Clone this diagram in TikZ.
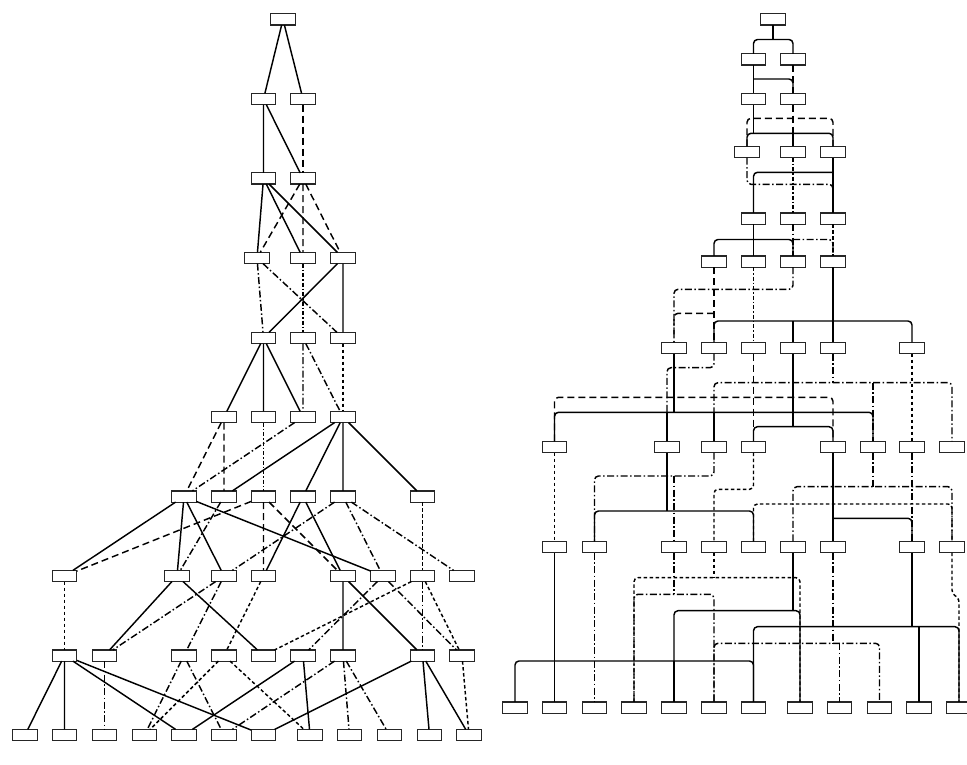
\documentclass[tikz,border=0pt]{standalone}
\begin{document}
\begin{tikzpicture}[x=1pt,y=-1pt,
  box/.style={draw=black!85, fill=white, line width=1.2pt, minimum width=24.6pt, minimum height=11.2pt, inner sep=0pt, outer sep=0pt},
  ln/.style={line width=1.45pt, draw=black},
  sol/.style={ln},
  dsh/.style={ln, dash pattern=on 7pt off 4pt},
  ddsh/.style={ln, dash pattern=on 3.5pt off 2.5pt},
  dd/.style={ln, dash pattern=on 7pt off 2.5pt on 1.5pt off 2.5pt},
  ddd/.style={ln, dash pattern=on 4pt off 2pt on 1.5pt off 2pt},
  rc/.style={rounded corners=4pt}]
\useasboundingbox (0,0) rectangle (967,765);

% ---------------- left diagram nodes ----------------
\node[box] (a1) at (283,19.5) {};
\node[box] (a2a) at (263.5,99) {};
\node[box] (a2b) at (303,99) {};
\node[box] (a3a) at (263.5,178.5) {};
\node[box] (a3b) at (303,178.5) {};
\node[box] (a4a) at (257,258) {};
\node[box] (a4b) at (303,258) {};
\node[box] (a4c) at (343,258) {};
\node[box] (a5a) at (263.5,338) {};
\node[box] (a5b) at (303,338) {};
\node[box] (a5c) at (343,338) {};
\foreach \n/\x in {a/224,b/263.5,c/303,d/343} \node[box] (a6\n) at (\x,417) {};
\foreach \n/\x in {a/184,b/224,c/263.5,d/303,e/343,f/422.5} \node[box] (a7\n) at (\x,496.5) {};
\foreach \n/\x in {a/64.5,b/177,c/224,d/263.5,e/343,f/383,g/422.5,h/462} \node[box] (a8\n) at (\x,576) {};
\foreach \n/\x in {a/64.5,b/104.5,c/184,d/224,e/263.5,f/303,g/343,h/422.5,i/462} \node[box] (a9\n) at (\x,655.5) {};
\foreach \n/\x in {a/25,b/64.5,c/104.5,d/144.5,e/184,f/224,g/263.5,h/310,i/349.5,j/389.5,k/429.5,l/469} \node[box] (a10\n) at (\x,735) {};

% ---------------- left diagram edges ----------------
\draw[sol] (a1) -- (a2a) (a1) -- (a2b);
\draw[sol] (a2a) -- (a3a) (a2a) -- (a3b);
\draw[dsh] (a2b) -- (a3b);
\draw[sol] (a3a) -- (a4a) (a3a) -- (a4b) (a3a) -- (a4c);
\draw[dsh] (a3b) -- (a4a) (a3b) -- (a4b) (a3b) -- (a4c);
\draw[dd] (a4a) -- (a5a) (a4a) -- (a5c);
\draw[ddd] (a4b) -- (a5b);
\draw[sol] (a4c) -- (a5a) (a4c) -- (a5c);
\draw[sol] (a5a) -- (a6a) (a5a) -- (a6b) (a5a) -- (a6c);
\draw[dd] (a5b) -- (a6c) (a5b) -- (a6d);
\draw[ddsh] (a5c) -- (a6d);
\draw[dsh] (a6a) -- (a7a) (a6a) -- (a7b);
\draw[ddd] (a6b) -- (a7c);
\draw[dd] (a6c) -- (a7a);
\draw[sol] (a6d) -- (a7b) (a6d) -- (a7d) (a6d) -- (a7e) (a6d) -- (a7f);
\draw[sol] (a7a) -- (a8a) (a7a) -- (a8b) (a7a) -- (a8c) (a7a) -- (a8f);
\draw[dd] (a7b) -- (a8b);
\draw[dsh] (a7c) -- (a8a) (a7c) -- (a8d) (a7c) -- (a8e);
\draw[sol] (a7d) -- (a8d) (a7d) -- (a8e);
\draw[dd] (a7e) -- (a8c) (a7e) -- (a8f) (a7e) -- (a8h);
\draw[ddsh] (a7f) -- (a8g);
\draw[ddsh] (a8a) -- (a9a);
\draw[sol] (a8b) -- (a9b) (a8b) -- (a9e);
\draw[dd] (a8c) -- (a9b) (a8c) -- (a9c);
\draw[ddsh] (a8d) -- (a9d);
\draw[sol] (a8e) -- (a9g) (a8e) -- (a9h);
\draw[dd] (a8f) -- (a9f) (a8f) -- (a9i);
\draw[dd] (a8g) -- (a9h);
\draw[ddsh] (a8g) -- (a9e) (a8g) -- (a9i);
\draw[sol] (a9a) -- (a10a) (a9a) -- (a10b) (a9a) -- (a10e) (a9a) -- (a10g);
\draw[dd] (a9b) -- (a10c);
\draw[dd] (a9c) -- (a10d) (a9c) -- (a10f);
\draw[ddsh] (a9d) -- (a10d) (a9d) -- (a10h);
\draw[sol] (a9f) -- (a10e) (a9f) -- (a10h);
\draw[dd] (a9g) -- (a10f) (a9g) -- (a10i) (a9g) -- (a10j);
\draw[sol] (a9h) -- (a10g) (a9h) -- (a10k) (a9h) -- (a10l);
\draw[ddsh] (a9i) -- (a10l);

% ---------------- right diagram nodes ----------------
\node[box] (b1) at (773,19.5) {};
\node[box] (b2a) at (753.5,59.5) {};
\node[box] (b2b) at (793,59.5) {};
\node[box] (b3a) at (753.5,99) {};
\node[box] (b3b) at (793,99) {};
\node[box] (b4a) at (747,152) {};
\node[box] (b4b) at (793,152) {};
\node[box] (b4c) at (833,152) {};
\node[box] (b5a) at (753.5,218.5) {};
\node[box] (b5b) at (793,218.5) {};
\node[box] (b5c) at (833,218.5) {};
\foreach \n/\x in {a/714,b/753.5,c/793,d/833} \node[box] (b6\n) at (\x,261.5) {};
\foreach \n/\x in {a/674,b/714,c/753.5,d/793,e/833,f/912} \node[box] (b7\n) at (\x,348) {};
\foreach \n/\x in {a/554.5,b/667,c/714,d/753.5,e/833,f/873,g/912,h/952} \node[box] (b8\n) at (\x,447) {};
\foreach \n/\x in {a/554.5,b/594.5,c/674,d/714,e/753.5,f/793,g/833,h/912,i/952} \node[box] (b9\n) at (\x,547) {};
\foreach \n/\x in {a/515,b/554.5,c/594.5,d/634,e/674,f/714,g/753.5,h/800,i/839.5,j/879.5,k/919,l/959} \node[box] (b10\n) at (\x,707.5) {};

% bus levels
\coordinate (h1) at (0,39.5);
\coordinate (h2) at (0,79);
\coordinate (h3d) at (0,118.3);
\coordinate (h3s) at (0,133.3);
\coordinate (h4s) at (0,172.3);
\coordinate (h4d) at (0,184.3);
\coordinate (h5) at (0,239.5);
\coordinate (h6c) at (0,289.3);
\coordinate (h6a) at (0,313.3);
\coordinate (h6d) at (0,321);
\coordinate (h7b) at (0,367.7);
\coordinate (h7e) at (0,382.7);
\coordinate (h7c) at (0,397.3);
\coordinate (h7a) at (0,412.3);
\coordinate (h7d) at (0,426.7);
\coordinate (h8c) at (0,476);
\coordinate (h8f) at (0,486.7);
\coordinate (h8d) at (0,489.3);
\coordinate (h8g) at (0,504);
\coordinate (h8b) at (0,511);
\coordinate (h8e) at (0,518.3);
\coordinate (h9d) at (0,577.7);
\coordinate (h9i) at (0,593);
\coordinate (h9j) at (0,599);
\coordinate (h9c) at (0,594.3);
\coordinate (h9f) at (0,610.7);
\coordinate (h9h) at (0,626.7);
\coordinate (h9g) at (0,643.3);
\coordinate (h9a) at (0,661);

% ---------------- right diagram edges ----------------
\draw[sol] (b1.south) -- (h1 -| b1);
\draw[sol,rc] (b2a.north) |- (h1 -| b2b) -- (b2b.north);
\draw[sol] (b2a.south) -- (b3a.north);
\draw[sol,rc] (h2 -| b2a) -- (h2 -| b3b) -- (b3b.north);
\draw[dsh] (b2b.south) -- (b3b.north);
\draw[sol] (b3a.south) -- (h3s -| b3a);
\draw[sol,rc] (b4a.north) |- (h3s -| b4c) -- (b4c.north);
\draw[sol] (h3s -| b4b) -- (b4b.north);
\draw[dsh] (b3b.south) -- (b4b.north);
\draw[dsh,rc] (b4a.north) |- (h3d -| b4c) -- (b4c.north);
\draw[dd,rc] (b4a.south) |- (h4d -| b5c) -- (b5c.north);
\draw[dd] (h4d -| b5a) -- (b5a.north);
\draw[ddd] (b4b.south) -- (b5b.north);
\draw[sol] (b4c.south) -- (b5c.north);
\draw[sol,rc] (h4s -| b4c) -- (h4s -| b5a) -- (b5a.north);
\draw[sol] (b5a.south) -- (b6b.north);
\draw[sol,rc] (b6a.north) |- (h5 -| b6c) -- (b6c.north);
\draw[dd] (b5b.south) -- (b6c.north);
\draw[dd,rc] (h5 -| b5b) -- (h5 -| b6d) -- (b6d.north);
\draw[ddsh] (b5c.south) -- (b6d.north);
\draw[dsh] (b6a.south) -- (b7b.north);
\draw[dsh,rc] (h6a -| b6a) -- (h6a -| b7a) -- (b7a.north);
\draw[ddd] (b6b.south) -- (b7c.north);
\draw[dd,rc] (b6c.south) |- (h6c -| b7a) -- (b7a.north);
\draw[sol] (b6d.south) -- (b7e.north);
\draw[sol,rc] (b7b.north) |- (h6d -| b7f) -- (b7f.north);
\draw[sol] (h6d -| b7d) -- (b7d.north);
\draw[sol] (b7a.south) -- (h7a -| b7a);
\draw[sol,rc] (b8a.north) |- (h7a -| b8f) -- (b8f.north);
\draw[sol] (h7a -| b8b) -- (b8b.north);
\draw[sol] (h7a -| b8c) -- (b8c.north);
\draw[dd,rc] (b7b.south) |- (h7b -| b8b) -- (b8b.north);
\draw[dsh] (b7c.south) -- (b8d.north);
\draw[dsh,rc] (b8a.north) |- (h7c -| b8e) -- (b8e.north);
\draw[sol] (b7d.south) -- (h7d -| b7d);
\draw[sol,rc] (b8d.north) |- (h7d -| b8e) -- (b8e.north);
\draw[dd] (b7e.south) -- (h7e -| b7e);
\draw[dd,rc] (b8c.north) |- (h7e -| b8h) -- (b8h.north);
\draw[dd] (h7e -| b8f) -- (b8f.north);
\draw[ddsh] (b7f.south) -- (b8g.north);
\draw[ddsh] (b8a.south) -- (b9a.north);
\draw[sol] (b8b.south) -- (h8b -| b8b);
\draw[sol,rc] (b9b.north) |- (h8b -| b9e) -- (b9e.north);
\draw[dd,rc] (b8c.south) |- (h8c -| b9b) -- (b9b.north);
\draw[dd] (h8c -| b9c) -- (b9c.north);
\draw[ddsh,rc] (b8d.south) |- (h8d -| b9d) -- (b9d.north);
\draw[sol] (b8e.south) -- (b9g.north);
\draw[sol,rc] (h8e -| b8e) -- (h8e -| b9h) -- (b9h.north);
\draw[dd] (b8f.south) -- (h8f -| b8f);
\draw[dd,rc] (b9f.north) |- (h8f -| b9i) -- (b9i.north);
\draw[dd] (b8g.south) -- (b9h.north);
\draw[ddsh,rc] (b9e.north) |- (h8g -| b9i) -- (b9i.north);
\draw[sol] (b9a.south) -- (b10b.north);
\draw[sol,rc] (b10a.north) |- (h9a -| b10g) -- (b10g.north);
\draw[sol] (h9a -| b10e) -- (b10e.north);
\draw[dd] (b9b.south) -- (b10c.north);
\draw[dd] (b9c.south) -- (h9c -| b9c);
\draw[dd,rc] (b10d.north) |- (h9c -| b10f) -- (b10f.north);
\draw[ddsh] (b9d.south) -- (h9d -| b9d);
\draw[ddsh,rc] (b10d.north) |- (h9d -| b10h) -- (b10h.north);
\draw[sol] (b9f.south) -- (h9f -| b9f);
\draw[sol,rc] (b10e.north) |- (h9f -| b10h) -- (b10h.north);
\draw[dd] (b9g.south) -- (h9g -| b9g);
\draw[dd,rc] (b10f.north) |- (h9g -| b10j) -- (b10j.north);
\draw[dd] (h9g -| b10i) -- (b10i.north);
\draw[sol] (b9h.south) -- (h9h -| b9h);
\draw[sol,rc] (b10g.north) |- (h9h -| b10l) -- (b10l.north);
\draw[sol] (h9h -| b10k) -- (b10k.north);
\draw[ddsh,rounded corners=3pt] (b9i.south) -- (h9i -| b9i) -- (h9j -| b10l) -- (b10l.north);
\end{tikzpicture}
\end{document}
